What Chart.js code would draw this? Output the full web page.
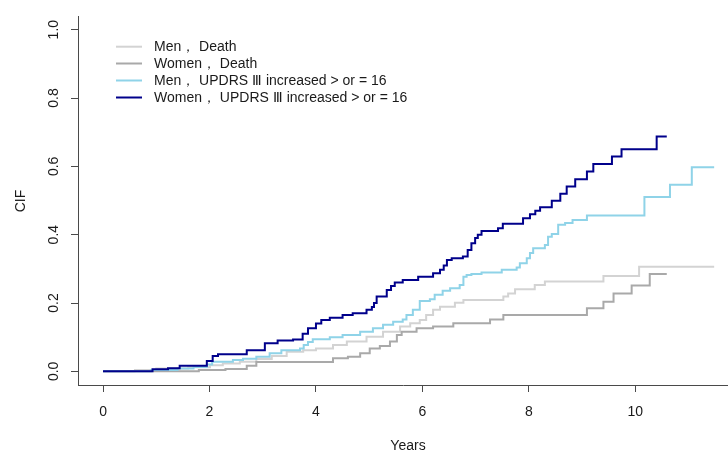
<!DOCTYPE html>
<html>
<head>
<meta charset="utf-8">
<script src="https://cdn.jsdelivr.net/npm/chart.js@4"></script>
<style>
html,body{margin:0;padding:0;background:#fff;}
#wrap{width:728px;height:450px;position:relative;}
</style>
</head>
<body>
<div id="wrap"><canvas id="c" width="728" height="450"></canvas></div>
<script>
// ---- data ----
const seriesLabels = [
  "Men\uFF0C Death",
  "Women\uFF0C Death",
  "Men\uFF0C UPDRS \u2162 increased > or = 16",
  "Women\uFF0C UPDRS \u2162 increased > or = 16"
];
const seriesColors = ["#d3d3d3", "#a9a9a9", "#8fd3e8", "#00008b"];

const menDeathT   = [0, 0.6, 1.0, 1.6, 2.01, 2.25, 2.57, 2.88, 3.17, 3.45, 3.76, 4.0, 4.32, 4.58, 4.95, 5.26, 5.58, 5.77, 5.95, 6.07, 6.2, 6.33, 6.61, 6.77, 7.52, 7.61, 7.74, 8.11, 8.3, 9.4, 10.07, 11.48];
const menDeathCIF = [0, 0.004, 0.008, 0.012, 0.018, 0.023, 0.028, 0.036, 0.045, 0.057, 0.062, 0.067, 0.077, 0.087, 0.101, 0.116, 0.131, 0.141, 0.15, 0.165, 0.18, 0.189, 0.201, 0.209, 0.219, 0.228, 0.24, 0.253, 0.263, 0.279, 0.306, 0.306];

const womenDeathT   = [0, 1.8, 2.3, 2.7, 2.88, 4.32, 4.6, 4.83, 5.01, 5.2, 5.39, 5.52, 5.61, 5.89, 6.2, 6.58, 7.27, 7.52, 9.09, 9.4, 9.59, 9.93, 10.27, 10.59];
const womenDeathCIF = [0, 0.004, 0.007, 0.016, 0.027, 0.038, 0.043, 0.053, 0.067, 0.074, 0.087, 0.106, 0.116, 0.126, 0.131, 0.141, 0.152, 0.165, 0.185, 0.204, 0.228, 0.251, 0.285, 0.285];

const menUpdrsT   = [0, 0.9, 1.4, 1.7, 1.95, 2.05, 2.44, 2.63, 2.88, 3.13, 3.35, 3.7, 3.77, 3.85, 3.94, 4.26, 4.5, 4.83, 5.07, 5.26, 5.45, 5.63, 5.7, 5.82, 5.95, 6.14, 6.23, 6.38, 6.52, 6.7, 6.77, 6.83, 6.92, 7.11, 7.49, 7.77, 7.83, 7.96, 8.02, 8.08, 8.3, 8.36, 8.43, 8.55, 8.68, 8.82, 9.09, 10.17, 10.65, 11.06, 11.48];
const menUpdrsCIF = [0, 0.004, 0.008, 0.013, 0.02, 0.028, 0.033, 0.037, 0.043, 0.053, 0.062, 0.067, 0.077, 0.086, 0.094, 0.1, 0.106, 0.116, 0.126, 0.136, 0.145, 0.152, 0.165, 0.18, 0.206, 0.211, 0.224, 0.236, 0.243, 0.253, 0.277, 0.282, 0.285, 0.289, 0.297, 0.304, 0.316, 0.331, 0.346, 0.36, 0.37, 0.394, 0.402, 0.429, 0.434, 0.443, 0.456, 0.51, 0.546, 0.597, 0.597];

const womenUpdrsT   = [0, 0.93, 1.22, 1.44, 1.95, 2.06, 2.16, 2.7, 3.04, 3.28, 3.57, 3.75, 3.85, 4.0, 4.1, 4.26, 4.5, 4.69, 4.95, 5.05, 5.09, 5.14, 5.33, 5.41, 5.48, 5.63, 5.92, 6.2, 6.33, 6.4, 6.46, 6.55, 6.76, 6.85, 6.92, 6.99, 7.04, 7.11, 7.42, 7.51, 7.89, 8.02, 8.12, 8.21, 8.43, 8.59, 8.71, 8.87, 9.09, 9.21, 9.56, 9.74, 10.4, 10.59];
const womenUpdrsCIF = [0, 0.006, 0.009, 0.016, 0.03, 0.045, 0.05, 0.062, 0.082, 0.09, 0.093, 0.11, 0.126, 0.14, 0.15, 0.157, 0.165, 0.17, 0.18, 0.188, 0.2, 0.219, 0.238, 0.25, 0.26, 0.267, 0.277, 0.287, 0.297, 0.31, 0.326, 0.331, 0.336, 0.355, 0.375, 0.39, 0.4, 0.411, 0.419, 0.432, 0.448, 0.46, 0.47, 0.48, 0.499, 0.52, 0.541, 0.562, 0.585, 0.607, 0.629, 0.65, 0.687, 0.687];

const xTickValues = [0, 2, 4, 6, 8, 10];
const xTickLabels = ["0", "2", "4", "6", "8", "10"];
const yTickValues = [0, 0.2, 0.4, 0.6, 0.8, 1.0];
const yTickLabels = ["0.0", "0.2", "0.4", "0.6", "0.8", "1.0"];
const xTitle = "Years";
const yTitle = "CIF";

// ---- build ----
function pts(t, v){ return t.map((x,i)=>({x:x, y:v[i]})); }
const allT = [menDeathT, womenDeathT, menUpdrsT, womenUpdrsT];
const allV = [menDeathCIF, womenDeathCIF, menUpdrsCIF, womenUpdrsCIF];
const drawOrder = [3, 2, 1, 0];

const FONT = "Liberation Sans, Arial, sans-serif";
const AXIS_COLOR = "#4a4a4a";
const TEXT_COLOR = "#1a1a1a";

const datasets = allT.map((t,i)=>({
  label: seriesLabels[i],
  data: pts(t, allV[i]),
  borderColor: seriesColors[i],
  backgroundColor: seriesColors[i],
  borderWidth: 2,
  pointRadius: 0,
  stepped: 'before',
  fill: false,
  order: drawOrder[i]
}));

const rPlugin = {
  id: 'rstyle',
  afterDraw(chart){
    const ctx = chart.ctx;
    const ys = chart.scales.y;
    ctx.save();
    ctx.fillStyle = TEXT_COLOR;
    ctx.font = "14px " + FONT;
    ctx.textAlign = "center";
    ctx.textBaseline = "middle";
    // y tick labels rotated (R style)
    yTickValues.forEach((v,i)=>{
      const py = ys.getPixelForValue(v);
      ctx.save();
      ctx.translate(54, py);
      ctx.rotate(-Math.PI/2);
      ctx.fillText(yTickLabels[i], 0, 0);
      ctx.restore();
    });
    // y title
    ctx.save();
    ctx.translate(21, 201);
    ctx.rotate(-Math.PI/2);
    ctx.fillText(yTitle, 0, 0);
    ctx.restore();
    // x title
    ctx.textBaseline = "alphabetic";
    ctx.fillText(xTitle, 408, 450);
    // legend
    ctx.textAlign = "left";
    ctx.textBaseline = "middle";
    const legendY = [46.7, 63.5, 80.5, 97.5];
    datasets.forEach((d,i)=>{
      const y = legendY[i];
      ctx.strokeStyle = d.borderColor;
      ctx.lineWidth = 2;
      ctx.beginPath();
      ctx.moveTo(116, y);
      ctx.lineTo(142, y);
      ctx.stroke();
      ctx.fillStyle = TEXT_COLOR;
      ctx.fillText(d.label, 154, y + 0.5);
    });
    ctx.restore();
  }
};

new Chart(document.getElementById('c'), {
  type: 'line',
  data: { datasets: datasets },
  options: {
    responsive: false,
    animation: false,
    devicePixelRatio: 1,
    layout: { padding: { top: 16, right: 0, bottom: 0, left: 0 } },
    plugins: { legend: { display: false }, tooltip: { enabled: false } },
    scales: {
      x: {
        type: 'linear',
        min: -0.47,
        max: 11.74,
        afterBuildTicks(s){ s.ticks = xTickValues.map(v=>({value:v})); },
        afterFit(s){ s.height = 65; },
        ticks: {
          callback(v){ const i = xTickValues.indexOf(v); return i>=0 ? xTickLabels[i] : ''; },
          color: TEXT_COLOR,
          font: { family: FONT, size: 14 },
          padding: 12,
          maxRotation: 0, minRotation: 0, autoSkip: false
        },
        grid: { drawOnChartArea: false, drawTicks: true, tickLength: 7, color: AXIS_COLOR, lineWidth: 1 },
        border: { display: true, color: AXIS_COLOR, width: 1 }
      },
      y: {
        type: 'linear',
        min: -0.04,
        max: 1.04,
        afterBuildTicks(s){ s.ticks = yTickValues.map(v=>({value:v})); },
        afterFit(s){ s.width = 78; },
        ticks: {
          callback(){ return ''; },
          color: "rgba(0,0,0,0)",
          font: { family: FONT, size: 14 },
          autoSkip: false
        },
        grid: { drawOnChartArea: false, drawTicks: true, tickLength: 7, color: AXIS_COLOR, lineWidth: 1 },
        border: { display: true, color: AXIS_COLOR, width: 1 }
      }
    }
  },
  plugins: [rPlugin]
});
</script>
</body>
</html>
